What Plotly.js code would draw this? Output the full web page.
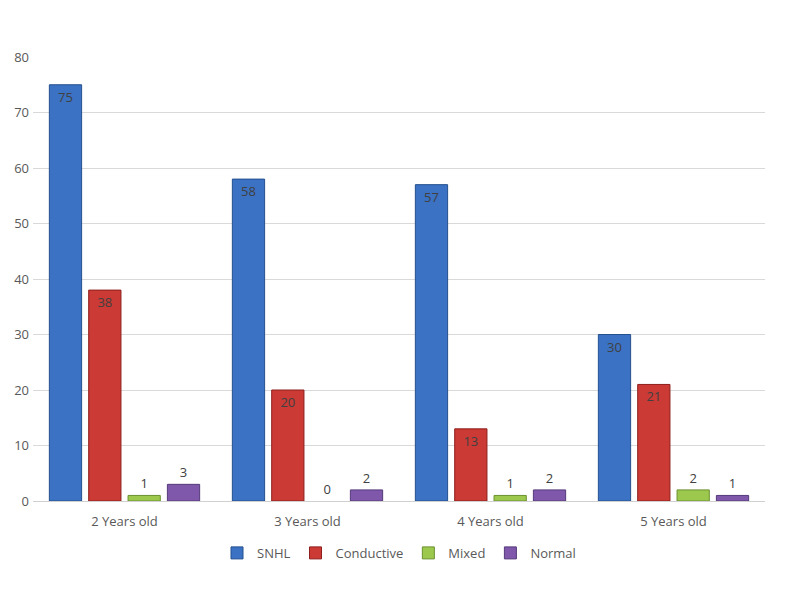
<!DOCTYPE html>
<html>
    <head>
        <meta charset="utf-8">
        <title>Hearing loss by age</title>
        <script src="https://cdn.plot.ly/plotly-3.0.1.min.js" charset="utf-8"></script>
        <style>
            *{
                margin: 0px;
                padding: 0px;
            }
            #grafik{
                width: 800px;
                height: 592px;
            }
        </style>
    </head>
    <body>
        <div id="grafik"></div>
    </body>
    <script>
        // данные с картинки
        const ages = ["2 Years old", "3 Years old", "4 Years old", "5 Years old"];
        const snhl = [75, 58, 57, 30];
        const conductive = [38, 20, 13, 21];
        const mixed = [1, 0, 1, 2];
        const normal = [3, 2, 2, 1];
        const yTicks = [0, 10, 20, 30, 40, 50, 60, 70, 80];

        function makeTrace(name, values, color, edge)
        {
            return {
                type: 'bar',
                name: name,
                x: ages,
                y: values,
                text: values.map(String),
                // большие столбики - подпись внутри, маленькие - сверху
                textposition: values.map(v => v >= 10 ? 'inside' : 'outside'),
                insidetextanchor: 'end',
                textangle: 0,
                textfont: {family: 'Open Sans, sans-serif', size: 13, color: '#404040'},
                cliponaxis: false,
                marker: {
                    color: color,
                    // у нулевого столбика нет обводки
                    line: {color: edge, width: values.map(v => v > 0 ? 1 : 0)}
                },
                hoverinfo: 'x+y+name'
            };
        }

        let data = [
            makeTrace('SNHL', snhl, '#3b72c4', '#24508f'),
            makeTrace('Conductive', conductive, '#cb3a35', '#8e1f1c'),
            makeTrace('Mixed', mixed, '#9cc94d', '#6b9130'),
            makeTrace('Normal', normal, '#7f57ab', '#563a7a')
        ];

        let layout = {
            width: 800,
            height: 592,
            margin: {l: 33, r: 35, t: 57, b: 91},
            paper_bgcolor: 'white',
            plot_bgcolor: 'white',
            barmode: 'group',
            bargap: 0.14,
            bargroupgap: 0.18,
            font: {family: 'Open Sans, sans-serif', size: 13, color: '#595959'},
            showlegend: true,
            legend: {
                orientation: 'h',
                x: 0.5, xanchor: 'center',
                y: -0.117, yanchor: 'middle',
                font: {size: 13, color: '#595959'},
                itemwidth: 30,
                tracegroupgap: 0
            },
            xaxis: {
                type: 'category',
                showgrid: false,
                showline: true,
                linecolor: '#d0d0d0',
                ticks: '',
                ticklabelstandoff: 8,
                tickfont: {size: 13, color: '#595959'}
            },
            yaxis: {
                range: [0, 80],
                tickvals: yTicks,
                ticktext: yTicks.map(String),
                showgrid: true,
                gridcolor: '#d9d9d9',
                zeroline: false,
                showline: false,
                ticks: '',
                ticklabelstandoff: 3,
                tickfont: {size: 13, color: '#595959'}
            }
        };

        Plotly.newPlot('grafik', data, layout, {displayModeBar: false, staticPlot: true});
    </script>
</html>
